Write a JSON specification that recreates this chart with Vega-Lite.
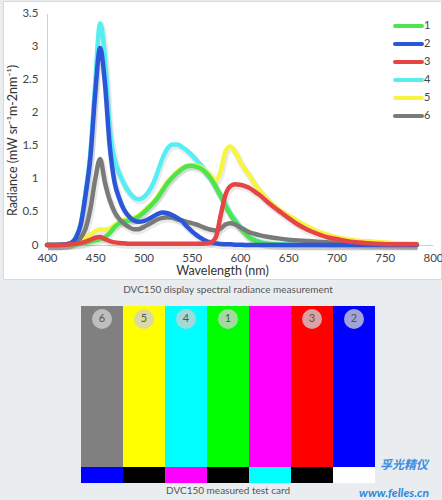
{
 "$schema": "https://vega.github.io/schema/vega-lite/v6.json",
 "background": "#e9edf0",
 "padding": {"left": 2, "right": 2, "top": 0, "bottom": 0},
 "spacing": 0,
 "config": {"font": "Lato", "view": {"stroke": null}},
 "vconcat": [
  {
   "width": 438,
   "height": 278,
   "view": {"fill": "white", "stroke": "#d6dadd"},
   "data": {"values": [
    {"nm":400,"1":0,"2":0,"3":0,"4":0,"5":0,"6":0},
    {"nm":410,"1":0,"2":0,"3":0,"4":0,"5":0,"6":0},
    {"nm":420,"1":0,"2":0.01,"3":0.005,"4":0.01,"5":0.01,"6":0.01},
    {"nm":425,"1":0.005,"2":0.03,"3":0.01,"4":0.03,"5":0.02,"6":0.02},
    {"nm":430,"1":0.01,"2":0.11,"3":0.02,"4":0.12,"5":0.04,"6":0.05},
    {"nm":435,"1":0.02,"2":0.31,"3":0.03,"4":0.33,"5":0.07,"6":0.11},
    {"nm":440,"1":0.03,"2":0.76,"3":0.05,"4":0.8,"5":0.11,"6":0.25},
    {"nm":445,"1":0.05,"2":1.33,"3":0.08,"4":1.4,"5":0.16,"6":0.55},
    {"nm":450,"1":0.07,"2":2.3,"3":0.11,"4":2.45,"5":0.21,"6":1.0},
    {"nm":455,"1":0.09,"2":2.98,"3":0.12,"4":3.35,"5":0.24,"6":1.3},
    {"nm":460,"1":0.12,"2":2.45,"3":0.09,"4":2.85,"5":0.23,"6":0.95},
    {"nm":465,"1":0.18,"2":1.5,"3":0.06,"4":1.75,"5":0.25,"6":0.68},
    {"nm":470,"1":0.27,"2":0.95,"3":0.04,"4":1.3,"5":0.3,"6":0.5},
    {"nm":475,"1":0.33,"2":0.7,"3":0.03,"4":1.08,"5":0.35,"6":0.39},
    {"nm":480,"1":0.36,"2":0.53,"3":0.025,"4":0.92,"5":0.38,"6":0.32},
    {"nm":485,"1":0.37,"2":0.43,"3":0.02,"4":0.8,"5":0.39,"6":0.27},
    {"nm":490,"1":0.39,"2":0.37,"3":0.02,"4":0.72,"5":0.41,"6":0.24},
    {"nm":495,"1":0.43,"2":0.35,"3":0.02,"4":0.69,"5":0.45,"6":0.24},
    {"nm":500,"1":0.49,"2":0.36,"3":0.02,"4":0.72,"5":0.51,"6":0.27},
    {"nm":505,"1":0.56,"2":0.39,"3":0.02,"4":0.8,"5":0.58,"6":0.31},
    {"nm":510,"1":0.63,"2":0.43,"3":0.02,"4":0.93,"5":0.65,"6":0.35},
    {"nm":515,"1":0.72,"2":0.47,"3":0.02,"4":1.12,"5":0.74,"6":0.39},
    {"nm":520,"1":0.83,"2":0.49,"3":0.02,"4":1.32,"5":0.85,"6":0.41},
    {"nm":525,"1":0.94,"2":0.48,"3":0.02,"4":1.46,"5":0.96,"6":0.42},
    {"nm":530,"1":1.02,"2":0.45,"3":0.02,"4":1.52,"5":1.04,"6":0.41},
    {"nm":535,"1":1.09,"2":0.41,"3":0.02,"4":1.52,"5":1.11,"6":0.39},
    {"nm":540,"1":1.15,"2":0.36,"3":0.02,"4":1.48,"5":1.16,"6":0.37},
    {"nm":545,"1":1.19,"2":0.28,"3":0.02,"4":1.43,"5":1.2,"6":0.35},
    {"nm":550,"1":1.2,"2":0.21,"3":0.02,"4":1.36,"5":1.21,"6":0.33},
    {"nm":555,"1":1.18,"2":0.15,"3":0.02,"4":1.28,"5":1.2,"6":0.31},
    {"nm":560,"1":1.15,"2":0.1,"3":0.02,"4":1.2,"5":1.17,"6":0.28},
    {"nm":565,"1":1.09,"2":0.06,"3":0.025,"4":1.1,"5":1.11,"6":0.25},
    {"nm":570,"1":1.0,"2":0.04,"3":0.04,"4":1.0,"5":1.04,"6":0.23},
    {"nm":575,"1":0.88,"2":0.025,"3":0.12,"4":0.87,"5":0.98,"6":0.22},
    {"nm":580,"1":0.74,"2":0.015,"3":0.45,"4":0.75,"5":1.12,"6":0.25},
    {"nm":585,"1":0.59,"2":0.01,"3":0.76,"4":0.61,"5":1.42,"6":0.31},
    {"nm":590,"1":0.46,"2":0.01,"3":0.89,"4":0.48,"5":1.49,"6":0.33},
    {"nm":595,"1":0.35,"2":0.005,"3":0.92,"4":0.38,"5":1.41,"6":0.31},
    {"nm":600,"1":0.26,"2":0.005,"3":0.91,"4":0.28,"5":1.27,"6":0.27},
    {"nm":605,"1":0.18,"2":0,"3":0.89,"4":0.19,"5":1.15,"6":0.23},
    {"nm":610,"1":0.11,"2":0,"3":0.86,"4":0.12,"5":1.05,"6":0.19},
    {"nm":615,"1":0.07,"2":0,"3":0.81,"4":0.08,"5":0.93,"6":0.17},
    {"nm":620,"1":0.04,"2":0,"3":0.76,"4":0.05,"5":0.83,"6":0.15},
    {"nm":630,"1":0.015,"2":0,"3":0.63,"4":0.02,"5":0.67,"6":0.12},
    {"nm":640,"1":0.005,"2":0,"3":0.52,"4":0.01,"5":0.54,"6":0.1},
    {"nm":650,"1":0,"2":0,"3":0.41,"4":0.005,"5":0.45,"6":0.08},
    {"nm":660,"1":0,"2":0,"3":0.31,"4":0,"5":0.36,"6":0.07},
    {"nm":670,"1":0,"2":0,"3":0.23,"4":0,"5":0.28,"6":0.06},
    {"nm":680,"1":0,"2":0,"3":0.17,"4":0,"5":0.21,"6":0.05},
    {"nm":690,"1":0,"2":0,"3":0.12,"4":0,"5":0.16,"6":0.04},
    {"nm":700,"1":0,"2":0,"3":0.09,"4":0,"5":0.12,"6":0.03},
    {"nm":710,"1":0,"2":0,"3":0.06,"4":0,"5":0.09,"6":0.025},
    {"nm":720,"1":0,"2":0,"3":0.04,"4":0,"5":0.07,"6":0.02},
    {"nm":740,"1":0,"2":0,"3":0.02,"4":0,"5":0.05,"6":0.01},
    {"nm":760,"1":0,"2":0,"3":0.01,"4":0,"5":0.03,"6":0.01},
    {"nm":783,"1":0,"2":0,"3":0.01,"4":0,"5":0.02,"6":0.005}
   ]},
   "transform": [{"fold": ["4", "5", "1", "6", "2", "3"], "as": ["series", "v"]}],
   "encoding": {
    "x": {"field": "nm", "type": "quantitative",
      "scale": {"domain": [354.4, 808.3], "nice": false, "zero": false},
      "axis": {"values": [400, 450, 500, 550, 600, 650, 700, 750, 800], "format": "d", "offset": -34,
        "ticks": false, "grid": false, "domainColor": "#cfcfcf", "domainDash": [0, 44, 386, 100],
        "labelPadding": 7, "labelFontSize": 11.5, "labelColor": "#444",
        "title": "Wavelength (nm)", "titleFontSize": 12.5, "titleFontWeight": "normal", "titleColor": "#333", "titlePadding": 1}},
    "y": {"field": "v", "type": "quantitative",
      "scale": {"domain": [-0.514, 3.689], "nice": false, "zero": false},
      "axis": {"values": [0, 0.5, 1, 1.5, 2, 2.5, 3, 3.5], "format": "~g", "offset": -44,
        "ticks": false, "grid": false, "domainColor": "#cfcfcf", "domainDash": [0, 34, 231.5, 100],
        "labelPadding": 9, "labelFontSize": 11.5, "labelColor": "#444",
        "title": "Radiance (mW sr⁻¹m-2nm⁻¹)", "titleFontSize": 12.5, "titleFontWeight": "normal", "titleColor": "#333", "titlePadding": 2}}
   },
   "layer": [
    {"mark": {"type": "line", "interpolate": "monotone", "color": "#333", "strokeOpacity": 0.1, "strokeWidth": 6.5, "xOffset": 1, "yOffset": 2},
     "encoding": {"detail": {"field": "series", "type": "nominal"}}},
    {"mark": {"type": "line", "interpolate": "monotone", "strokeWidth": 4.5, "strokeCap": "round", "strokeJoin": "round"},
     "encoding": {"color": {"field": "series", "type": "nominal",
       "scale": {"domain": ["1", "2", "3", "4", "5", "6"], "range": ["#4ee44e", "#2b56d8", "#e64545", "#55eef2", "#f6f542", "#7a7a7a"]},
       "legend": {"orient": "none", "legendX": 398.5, "legendY": 18, "title": null, "padding": 0,
         "symbolType": "M-2.7,0H2.7", "symbolSize": 100, "symbolStrokeWidth": 4,
         "labelFontSize": 11, "labelColor": "#444", "labelOffset": 8.5, "rowPadding": 2,
         "encode": {"symbols": {"update": {"strokeCap": {"value": "round"}}}}}}}}
   ]
  },
  {
   "width": 438,
   "height": 222,
   "data": {"values": [
    {"bar": 1, "main": "gray", "strip": "blue", "num": "6"},
    {"bar": 2, "main": "yellow", "strip": "black", "num": "5"},
    {"bar": 3, "main": "cyan", "strip": "magenta", "num": "4"},
    {"bar": 4, "main": "green", "strip": "black", "num": "1"},
    {"bar": 5, "main": "magenta", "strip": "cyan", "num": ""},
    {"bar": 6, "main": "red", "strip": "black", "num": "3"},
    {"bar": 7, "main": "blue", "strip": "white", "num": "2"}
   ]},
   "encoding": {
    "x": {"field": "bar", "type": "ordinal", "scale": {"type": "band", "range": [78, 372], "paddingInner": 0, "paddingOuter": 0}, "axis": null}
   },
   "layer": [
    {"mark": {"type": "rect"},
     "encoding": {
      "y": {"datum": 1, "type": "quantitative", "scale": {"domain": [-1.18, 12.615], "nice": false, "zero": false}, "axis": null},
      "y2": {"datum": 11},
      "fill": {"field": "main", "type": "nominal",
        "scale": {"domain": ["gray", "yellow", "cyan", "green", "magenta", "red", "blue", "black", "white"],
                  "range": ["#808080", "#ffff00", "#00ffff", "#00ff00", "#ff00ff", "#ff0000", "#0000ff", "#000000", "#ffffff"]},
        "legend": null}}},
    {"mark": {"type": "rect"},
     "encoding": {
      "y": {"datum": 0, "type": "quantitative"},
      "y2": {"datum": 1},
      "fill": {"field": "strip", "type": "nominal", "legend": null}}},
    {"transform": [{"filter": "datum.num != ''"}],
     "mark": {"type": "circle", "size": 400, "color": "#cfcfcf", "opacity": 0.78},
     "encoding": {"y": {"datum": 10.19, "type": "quantitative"}}},
    {"transform": [{"filter": "datum.num != ''"}],
     "mark": {"type": "text", "fontSize": 11, "color": "#555"},
     "encoding": {"y": {"datum": 10.19, "type": "quantitative"}, "text": {"field": "num"}}},
    {"data": {"values": [{"t": "DVC150 display spectral radiance measurement"}]},
     "mark": {"type": "text", "fontSize": 10, "color": "#555"},
     "encoding": {"x": {"datum": 4}, "y": {"datum": 12, "type": "quantitative"}, "text": {"field": "t"}}},
    {"data": {"values": [{"t": "DVC150 measured test card"}]},
     "mark": {"type": "text", "fontSize": 10, "color": "#555"},
     "encoding": {"x": {"datum": 4}, "y": {"datum": -0.5, "type": "quantitative"}, "text": {"field": "t"}}},
    {"data": {"values": [{"t": "孚光精仪"}]},
     "mark": {"type": "text", "fontSize": 12, "fontStyle": "italic", "fontWeight": "bold", "color": "#3a8ee0", "dx": 50, "font": "Noto Sans CJK SC"},
     "encoding": {"x": {"datum": 7}, "y": {"datum": 1.12, "type": "quantitative"}, "text": {"field": "t"}}},
    {"data": {"values": [{"t": "www.felles.cn"}]},
     "mark": {"type": "text", "fontSize": 12, "fontStyle": "italic", "fontWeight": "bold", "color": "#2e86de", "dx": 40},
     "encoding": {"x": {"datum": 7}, "y": {"datum": -0.62, "type": "quantitative"}, "text": {"field": "t"}}}
   ]
  }
 ]
}
